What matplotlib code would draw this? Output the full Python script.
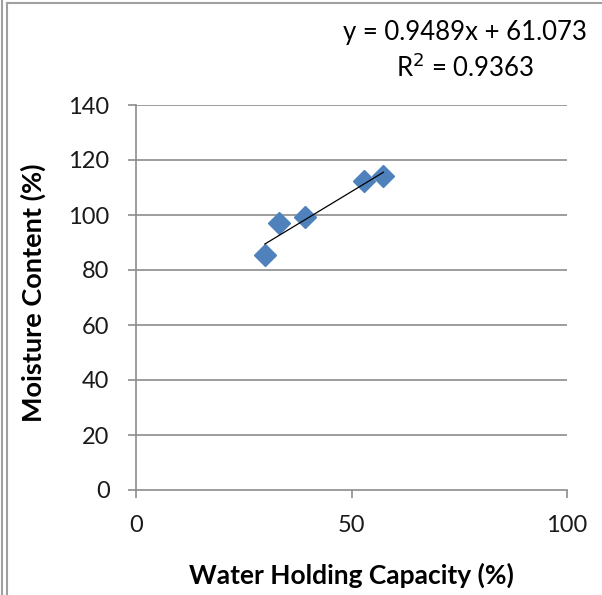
import numpy as np
import matplotlib

matplotlib.use("Agg")
import matplotlib.pyplot as plt
from matplotlib.lines import Line2D

# data
whc = [29.9, 33.2, 39.1, 52.8, 57.4]
moisture = [85.5, 97.0, 99.4, 112.5, 114.2]
slope = 0.9489
intercept = 61.073
r2 = 0.9363
x_ticks = [0, 50, 100]
y_ticks = [0, 20, 40, 60, 80, 100, 120, 140]

GRID = "#8c8c8c"
BLUE = "#4f81bd"

plt.rcParams["font.family"] = ["Lato", "DejaVu Sans"]

fig = plt.figure(figsize=(6.02, 5.95), dpi=100, facecolor="white")
ax = fig.add_axes([136 / 602, 1 - 490 / 595, (567 - 136) / 602, 385 / 595])

ax.set_xlim(x_ticks[0], x_ticks[-1])
ax.set_ylim(y_ticks[0], y_ticks[-1])
ax.set_xticks(x_ticks)
ax.set_yticks(y_ticks)

for y in y_ticks[1:]:
    ax.axhline(y, color=GRID, linewidth=1.2, zorder=1)

ax.plot(whc, moisture, linestyle="none", marker="D", markersize=11,
        color=BLUE, markeredgecolor=BLUE, zorder=3)

# linear trendline over the data range
xs = np.array([min(whc), max(whc)])
ax.plot(xs, slope * xs + intercept, color="black", linewidth=0.9, zorder=4)

for side in ("top", "right"):
    ax.spines[side].set_visible(False)
for side in ("left", "bottom"):
    ax.spines[side].set_color(GRID)
    ax.spines[side].set_linewidth(1.2)

ax.tick_params(axis="both", direction="out", length=6, width=1.2,
               color=GRID, labelsize=17, labelcolor="#1a1a1a")
ax.tick_params(axis="x", pad=12)
ax.tick_params(axis="y", pad=13)

ax.set_xlabel("Water Holding Capacity (%)", fontsize=19, fontweight="bold")
ax.set_ylabel("Moisture Content (%)", fontsize=19.5, fontweight="bold")
ax.xaxis.set_label_coords(0.5, -(575 - 490) / 385)
ax.yaxis.set_label_coords((33 - 136) / 431, (490 - 293) / 385)
ax.xaxis.label.set_va("center")
ax.yaxis.label.set_va("center")

fig.text(465 / 602, 1 - 51 / 595,
         f"y = {slope}x + {intercept}\nR$^2$ = {r2}",
         ha="center", va="center", fontsize=18.5, linespacing=1.35)

# chart frame lines at the top / left edge
fig.add_artist(Line2D([2 / 602, 2 / 602], [0, 1], color="#a0a0a0", lw=1.5,
                      transform=fig.transFigure))
fig.add_artist(Line2D([7 / 602, 7 / 602], [0, 1 - 3 / 595], color="#a0a0a0",
                      lw=1.5, transform=fig.transFigure))
fig.add_artist(Line2D([7 / 602, 1], [1 - 3 / 595, 1 - 3 / 595],
                      color="#a0a0a0", lw=1.5, transform=fig.transFigure))

fig.savefig("out.png", dpi=100, facecolor="white")
plt.close(fig)
